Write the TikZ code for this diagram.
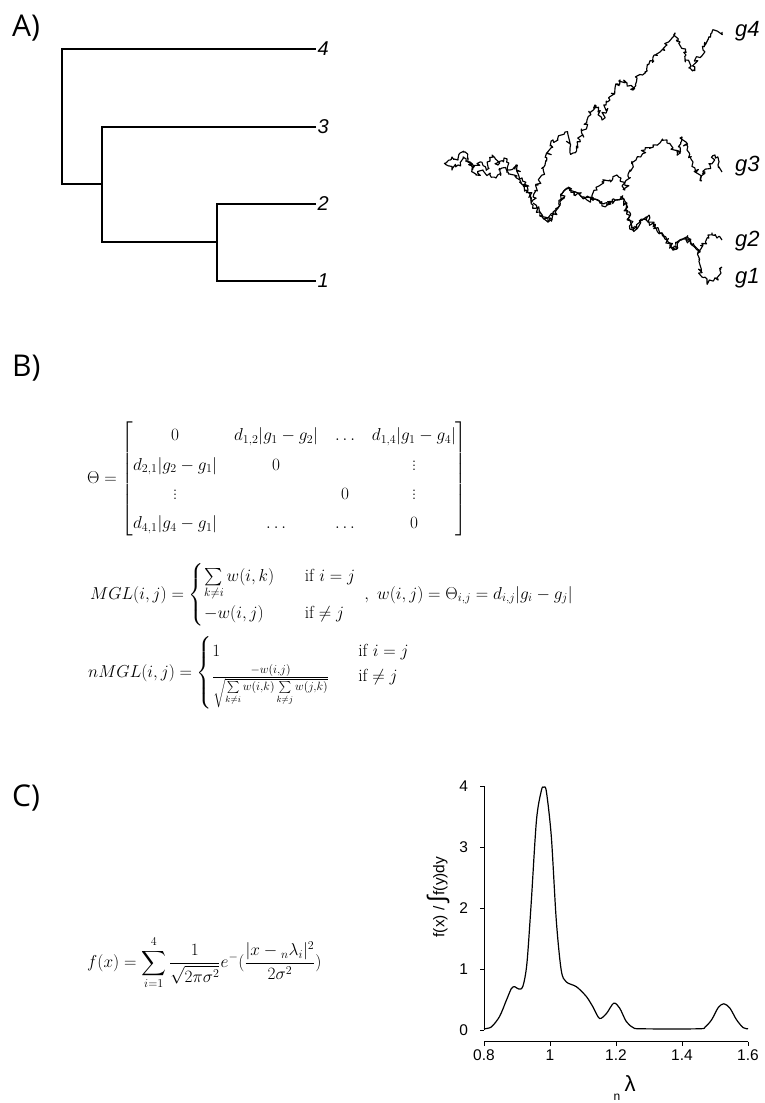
\documentclass[tikz,border=0pt]{standalone}
\usepackage{amsmath}
\usepackage{fontspec}
\newfontfamily\helv{Liberation Sans}
\newfontfamily\osans{Open Sans}
\usetikzlibrary{decorations.pathmorphing}
\begin{document}
\begin{tikzpicture}[x=1pt,y=-1pt,
  panel/.style={anchor=base west, inner sep=0pt, font=\osans\fontsize{30}{32}\selectfont},
  leaf/.style={anchor=west, inner sep=1.5pt, font=\helv\itshape\fontsize{20}{22}\selectfont},
  glab/.style={anchor=base west, inner sep=0pt, font=\helv\itshape\fontsize{22}{24}\selectfont},
  branch/.style={line width=1.3pt},
  walk/.style={line width=1.15pt, line join=round, decorate,
    decoration={random steps, segment length=2pt, amplitude=2.8pt}},
  eq/.style={anchor=west, inner sep=0pt, font=\fontsize{17.5}{21}\selectfont},
  axis/.style={line width=1pt},
  ticklab/.style={inner sep=0pt, font=\helv\fontsize{15.5}{17}\selectfont},
]
\useasboundingbox (0,0) rectangle (764,1103);

% ---------- panel labels
\node[panel] (pA) at (12,36) {A)};
\node[panel] (pB) at (12,376) {B)};
\node[panel] (pC) at (12,806) {C)};

% ---------- tree
\node[leaf] (l4) at (316,49) {4};
\node[leaf] (l3) at (316,127) {3};
\node[leaf] (l2) at (316,204) {2};
\node[leaf] (l1) at (316,281) {1};
\coordinate (r) at (62,184);
\coordinate (u) at (102,184);
\coordinate (v) at (217,242);
\draw[branch] (l4.west) -| (r) -- (u);
\draw[branch] (l3.west) -| (u) |- (v);
\draw[branch] (l2.west) -| (v);
\draw[branch] (l1.west) -| (v);

% ---------- random walks
\pgfmathsetseed{11}
\draw[walk] (446,163) -- (452,157) -- (458,160) -- (463,152) -- (468,158) -- (473,168) -- (480,162) -- (486,170) -- (492,155) -- (498,165) -- (504,158) -- (510,170) -- (516,165) -- (522,178) -- (528,190) -- (533,200) -- (538,185) -- (545,165) -- (553,140) -- (558,140) -- (565,132) -- (570,148) -- (573,153) -- (580,140) -- (587,120) -- (595,105) -- (598,112) -- (602,120) -- (606,105) -- (610,100) -- (615,88) -- (620,80) -- (627,83) -- (633,90) -- (637,78) -- (645,72) -- (653,57) -- (660,52) -- (667,45) -- (672,38) -- (675,33) -- (680,42) -- (686,55) -- (690,68) -- (693,70) -- (698,57) -- (703,50) -- (708,40) -- (712,33) -- (717,31) -- (722,32);
\pgfmathsetseed{23}
\draw[walk] (446,163) -- (452,170) -- (458,165) -- (463,157) -- (470,162) -- (476,175) -- (483,170) -- (490,175) -- (496,178) -- (502,168) -- (508,172) -- (514,175) -- (520,180) -- (526,190) -- (533,205) -- (540,212) -- (548,222) -- (554,214) -- (560,205) -- (565,190) -- (570,188) -- (574,195) -- (578,193) -- (585,198) -- (593,200) -- (597,190) -- (602,182) -- (610,180) -- (617,175) -- (621,178) -- (625,190) -- (630,170) -- (636,160) -- (645,150) -- (653,145) -- (660,143) -- (667,140) -- (673,148) -- (677,155) -- (682,137) -- (687,150) -- (693,162) -- (700,180) -- (705,172) -- (710,165) -- (715,155) -- (718,165) -- (722,172);
\pgfmathsetseed{37}
\draw[walk] (533,203) -- (540,212) -- (548,222) -- (554,214) -- (560,205) -- (565,190) -- (570,188) -- (574,195) -- (578,193) -- (585,198) -- (593,200) -- (600,203) -- (607,205) -- (615,200) -- (622,197) -- (627,212) -- (633,230) -- (640,222) -- (647,217) -- (655,228) -- (662,233) -- (667,240) -- (673,250) -- (680,240) -- (687,237) -- (692,245) -- (698,253) -- (703,245) -- (708,235) -- (712,233) -- (717,238) -- (722,240);
\pgfmathsetseed{41}
\draw[walk] (585,198) -- (593,200) -- (600,203) -- (607,205) -- (615,200) -- (622,197) -- (627,212) -- (633,230) -- (640,222) -- (647,217) -- (655,228) -- (662,233) -- (667,240) -- (673,250) -- (680,240) -- (687,237) -- (692,245) -- (698,253) -- (700,265) -- (702,277) -- (707,283) -- (713,281) -- (718,280) -- (722,267);
\node[glab] (g4) at (735,36) {g4};
\node[glab] (g3) at (735,171) {g3};
\node[glab] (g2) at (735,246) {g2};
\node[glab] (g1) at (735,283) {g1};

% ---------- equations
\node[eq, font=\fontsize{18}{21}\selectfont] (theta) at (87,479) {\renewcommand{\arraystretch}{1.4}\setlength{\arraycolsep}{8.5pt}$\Theta = \begin{bmatrix}
0 & d_{1,2}|g_1-g_2| & \ldots & d_{1,4}|g_1-g_4| \\
d_{2,1}|g_2-g_1| & 0 & & \vdots \\
\vdots & & 0 & \vdots \\
d_{4,1}|g_4-g_1| & \ldots & \ldots & 0
\end{bmatrix}$};
\node[eq] (mgl) at (90,595) {$MGL(i,j) = \begin{cases}
\sum\limits_{k\neq i} w(i,k) & \hskip 13pt\text{if } i=j \\
-w(i,j) & \hskip 13pt\text{if} \neq j
\end{cases}\ ,\ w(i,j) = \Theta_{i,j} = d_{i,j}|g_i-g_j|$};
\node[eq] (nmgl) at (88,673) {$nMGL(i,j) = \begin{cases}
1 & \hskip 12pt\text{if } i=j \\
\frac{-w(i,j)}{\sqrt{\sum\limits_{k\neq i} w(i,k)\sum\limits_{k\neq j} w(j,k)}} & \hskip 12pt\text{if} \neq j
\end{cases}$};
\node[eq, font=\fontsize{18}{21}\selectfont] (fx) at (87,963) {$\displaystyle f(x) = \sum_{i=1}^{4}\frac{1}{\sqrt{2\pi\sigma^2}}e^{-}(\frac{|x-{}_{n}\lambda_i|^2}{2\sigma^2})$};

% ---------- density plot
\begin{scope}[shift={(220,1030)}, x=330pt, y=61pt]
  \draw[axis] (0.8,0) coordinate (y0) -- (0.8,4) coordinate (y4);
  \foreach \k in {0,...,4} {
    \draw[axis] (0.8,\k) -- ++(-4.5pt,0) node[ticklab, anchor=east, xshift=-11pt] (yt\k) {\k};
  }
  \draw[axis] (0.8,-0.19) coordinate (x0) -- (1.6,-0.19) coordinate (x1);
  \foreach \v/\t in {0.8/0.8,1/1,1.2/1.2,1.4/1.4,1.6/1.6} {
    \draw[axis] (\v,-0.19) -- ++(0,-4.5pt) node[ticklab, anchor=north, yshift=-3.5pt] {\t};
  }
  \draw[line width=1.2pt, line join=round] plot[smooth, tension=0.5] coordinates {
    (0.800,0.02) (0.822,0.05) (0.847,0.22) (0.868,0.49) (0.883,0.68) (0.893,0.71)
    (0.906,0.67) (0.918,0.72) (0.930,1.09) (0.943,2.08) (0.959,3.44) (0.974,3.93)
    (0.981,3.98) (0.989,3.91) (1.004,3.17) (1.019,1.80) (1.034,0.98) (1.049,0.79)
    (1.080,0.71) (1.110,0.55) (1.130,0.38) (1.150,0.19) (1.171,0.27) (1.193,0.44)
    (1.211,0.36) (1.231,0.14) (1.252,0.04) (1.277,0.02) (1.450,0.02) (1.470,0.05)
    (1.490,0.17) (1.510,0.37) (1.527,0.43) (1.545,0.36) (1.565,0.17) (1.585,0.04)
    (1.600,0.02)};
\end{scope}
\node[rotate=90, inner sep=0pt, font=\helv\fontsize{15.5}{17}\selectfont] (ylab) at (438,897)
  {f(x) / {\fontsize{24}{24}\selectfont ∫}f(y)dy};
\node[inner sep=0pt, font=\helv\fontsize{22}{24}\selectfont] (lam) at (630,1084) {λ};
\node[inner sep=0pt, font=\helv\fontsize{12}{13}\selectfont] (lamn) at (617,1097) {n};
\end{tikzpicture}
\end{document}
